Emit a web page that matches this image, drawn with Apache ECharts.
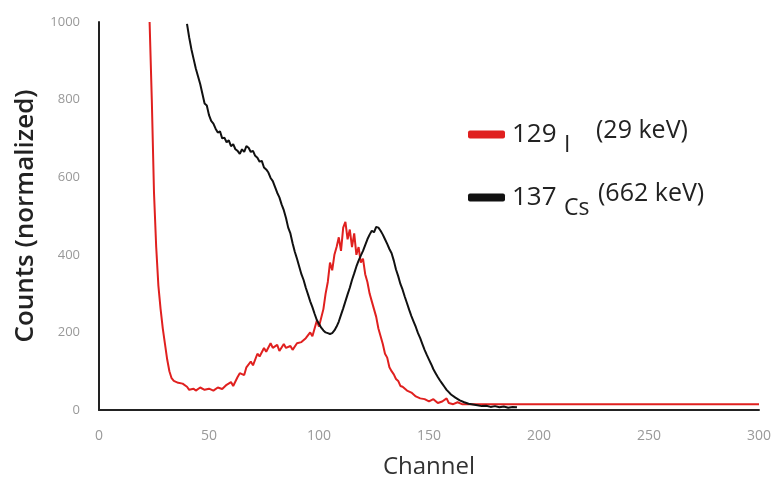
<!DOCTYPE html>
<html>
<head>
<meta charset="utf-8">
<script src="https://cdn.jsdelivr.net/npm/echarts@6/dist/echarts.min.js"></script>
<style>
  html, body { margin: 0; padding: 0; background: #fff; }
  #chart { width: 774px; height: 480px; }
</style>
</head>
<body>
<div id="chart"></div>
<script>
// channel / counts
const iodineChannels = [23, 24, 25, 26, 27, 28, 29, 30, 31, 32, 33, 34, 36, 38, 40, 41, 43, 44, 46, 48, 50, 52, 54, 56, 58, 60, 61, 63, 64, 66, 67, 69, 70, 72, 73, 75, 76, 78, 79, 81, 82, 84, 85, 87, 88, 90, 92, 94, 96, 97, 99, 100, 102, 103, 104, 105, 106, 107, 108, 109, 110, 111, 112, 113, 114, 115, 116, 117, 118, 119, 120, 121, 122, 123, 124, 125, 126, 127, 128, 129, 130, 131, 132, 133, 134, 135, 136, 137, 138, 140, 142, 144, 146, 148, 150, 152, 154, 156, 158, 159, 161, 163, 165, 170, 200, 250, 300]
const iodineCounts = [1000, 800, 560, 420, 320, 260, 210, 170, 130, 100, 82, 75, 70, 68, 60, 52, 55, 50, 58, 52, 55, 50, 58, 54, 65, 72, 62, 85, 95, 90, 110, 125, 115, 145, 138, 160, 150, 172, 160, 168, 152, 170, 160, 165, 155, 172, 175, 185, 200, 190, 230, 215, 260, 300, 330, 380, 360, 400, 420, 445, 410, 470, 485, 440, 465, 420, 455, 400, 420, 380, 390, 350, 330, 300, 280, 260, 240, 210, 190, 170, 145, 135, 110, 100, 92, 80, 75, 62, 60, 50, 45, 35, 30, 28, 22, 28, 18, 22, 30, 18, 15, 20, 15, 15, 15, 15, 15]

const cesiumChannels = [40, 41, 42, 43, 44, 45, 46, 47, 48, 49, 50, 51, 52, 53, 54, 55, 56, 57, 58, 59, 60, 61, 62, 63, 64, 65, 66, 67, 68, 69, 70, 71, 72, 73, 74, 75, 76, 77, 78, 79, 80, 81, 82, 83, 84, 85, 86, 87, 88, 89, 90, 91, 92, 93, 94, 95, 96, 97, 98, 99, 100, 101, 102, 103, 104, 105, 106, 107, 108, 109, 110, 111, 112, 113, 114, 115, 116, 117, 118, 119, 120, 121, 122, 123, 124, 125, 126, 127, 128, 129, 130, 131, 132, 133, 134, 135, 136, 137, 138, 139, 140, 141, 142, 143, 144, 145, 146, 147, 148, 149, 150, 151, 152, 153, 154, 155, 156, 157, 158, 159, 160, 162, 164, 166, 168, 170, 172, 174, 176, 178, 180, 182, 184, 186, 188, 190]
const cesiumCounts = [995, 960, 930, 905, 880, 860, 840, 815, 790, 785, 760, 745, 738, 725, 715, 718, 700, 702, 690, 695, 680, 685, 672, 668, 660, 672, 665, 680, 676, 665, 668, 655, 650, 640, 642, 625, 620, 612, 598, 590, 575, 560, 548, 530, 515, 495, 470, 455, 430, 408, 390, 370, 350, 335, 315, 298, 280, 265, 248, 232, 222, 212, 205, 200, 198, 196, 198, 205, 215, 228, 245, 262, 280, 298, 315, 335, 352, 370, 385, 398, 410, 425, 440, 452, 462, 458, 472, 470, 462, 452, 440, 428, 415, 404, 385, 362, 345, 325, 310, 292, 275, 258, 242, 228, 214, 198, 185, 170, 155, 142, 130, 118, 105, 95, 85, 76, 68, 60, 52, 46, 40, 32, 25, 20, 16, 14, 12, 10, 11, 8, 10, 7, 9, 6, 8, 7]

const seriesNames = ['129I', '137Cs']
const legendParts = {
  '129I': ['129', 'I', '(29 keV)'],
  '137Cs': ['137', 'Cs', '(662 keV)']
}

const zip = (xs, ys) => xs.map((x, i) => [x, ys[i]])

const chart = echarts.init(document.getElementById('chart'))

const font = 'Open Sans'
const legendRich = (massW, symW) => ({
  n: { fontSize: 26, color: '#222', fontFamily: font, width: massW, padding: [0, 0, 0, 2] },
  s: { fontSize: 23, color: '#222', fontFamily: font, width: symW, padding: [22, 0, 0, 0] },
  e: { fontSize: 25, color: '#222', fontFamily: font, padding: [0, 0, 8, 0] }
})

const makeLegend = (name, top, massW, symW) => ({
  orient: 'vertical',
  left: 463,
  top: top,
  itemWidth: 37,
  itemHeight: 8,
  icon: 'roundRect',
  data: [name],
  formatter: (n) => {
    const p = legendParts[n]
    return '{n|' + p[0] + '}{s|' + p[1] + '}{e|' + p[2] + '}'
  },
  textStyle: { rich: legendRich(massW, symW) }
})

chart.setOption({
  animation: false,
  grid: { left: 99, right: 15, top: 22, bottom: 70, outerBoundsMode: 'none' },
  legend: [
    makeLegend(seriesNames[0], 113, 52, 32),
    makeLegend(seriesNames[1], 176, 52, 34)
  ],
  xAxis: {
    type: 'value',
    min: 0,
    max: 300,
    interval: 50,
    name: 'Channel',
    nameLocation: 'middle',
    nameGap: 45,
    nameTextStyle: { fontSize: 24, color: '#333', fontFamily: font },
    axisLine: { lineStyle: { color: '#222', width: 2 } },
    axisTick: { show: false },
    splitLine: { show: false },
    axisLabel: { fontSize: 14, color: '#999', margin: 19, fontFamily: font }
  },
  yAxis: {
    type: 'value',
    min: 0,
    max: 1000,
    interval: 200,
    name: 'Counts (normalized)',
    nameLocation: 'middle',
    nameGap: 60,
    nameTextStyle: { fontSize: 26, color: '#222', fontFamily: font, fontWeight: 600 },
    axisLine: { show: true, lineStyle: { color: '#222', width: 2 } },
    axisTick: { show: false },
    splitLine: { show: false },
    axisLabel: { fontSize: 13, color: '#999', margin: 19, fontFamily: font, formatter: (v) => String(v) }
  },
  series: [
    {
      name: seriesNames[0],
      type: 'line',
      data: zip(iodineChannels, iodineCounts),
      showSymbol: false,
      lineStyle: { color: '#e0201f', width: 2 },
      itemStyle: { color: '#e0201f' },
      z: 2
    },
    {
      name: seriesNames[1],
      type: 'line',
      data: zip(cesiumChannels, cesiumCounts),
      showSymbol: false,
      lineStyle: { color: '#111', width: 2 },
      itemStyle: { color: '#111' },
      z: 3
    }
  ]
})
</script>
</body>
</html>
